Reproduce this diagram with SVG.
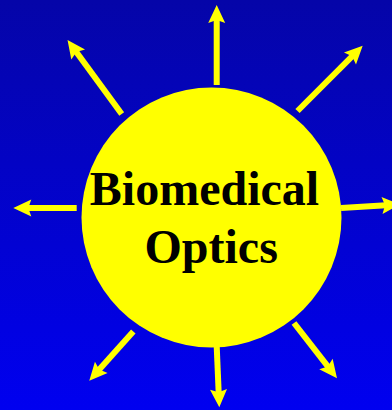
<svg xmlns="http://www.w3.org/2000/svg" width="392" height="410" viewBox="0 0 392 410">
  <defs>
    <linearGradient id="bg" x1="0" y1="0" x2="0" y2="1">
      <stop offset="0" stop-color="#0505a8"/>
      <stop offset="1" stop-color="#0000f0"/>
    </linearGradient>
    <marker id="head" markerUnits="userSpaceOnUse" markerWidth="40" markerHeight="40" refX="0" refY="0" orient="auto" overflow="visible">
      <path d="M14,0 L-4,-8.5 L-1,0 L-4,8.5 Z" fill="#ffff00"/>
    </marker>
    <style>
      .ray { stroke: #ffff00; stroke-width: 6; fill: none; marker-end: url(#head); }
      .label { font-family: "Liberation Serif", "Times New Roman", serif; font-weight: bold; font-size: 48px; fill: #000; text-anchor: middle; }
    </style>
  </defs>
  <rect x="0" y="0" width="392" height="410" fill="url(#bg)"/>
  <g id="connectors">
    <line class="ray" x1="216.7" y1="85" x2="216.7" y2="19"/>
    <line class="ray" x1="121.7" y1="114" x2="75.8" y2="51.3"/>
    <line class="ray" x1="297.5" y1="111" x2="352.8" y2="55.6"/>
    <line class="ray" x1="76.7" y1="208" x2="27.3" y2="208"/>
    <line class="ray" x1="341" y1="208" x2="386" y2="205.3"/>
    <line class="ray" x1="133.3" y1="331.5" x2="98.6" y2="370.3"/>
    <line class="ray" x1="216.7" y1="346" x2="218.7" y2="393.3"/>
    <line class="ray" x1="294" y1="323" x2="328.4" y2="367.2"/>
  </g>
  <g id="sun">
    <circle cx="211.5" cy="217.5" r="130" fill="#ffff00"/>
    <text class="label" x="204.5" y="205">Biomedical</text>
    <text class="label" x="211.2" y="263">Optics</text>
  </g>
</svg>
